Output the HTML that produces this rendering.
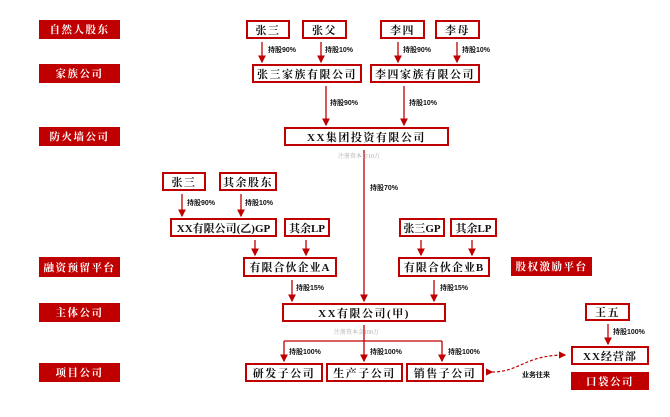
<!DOCTYPE html>
<html><head><meta charset="utf-8"><style>
body{margin:0;width:670px;height:417px;background:#fff;position:relative;overflow:hidden;font-family:"Liberation Serif","Noto Serif CJK SC",serif;}
.b{position:absolute;box-sizing:border-box;border:2px solid #c00000;background:#fff;color:#111;font-weight:bold;font-size:11px;display:flex;align-items:center;justify-content:center;letter-spacing:1.5px;white-space:nowrap}
.r{position:absolute;box-sizing:border-box;background:#c00000;color:#fff;font-weight:bold;font-size:10.5px;display:flex;align-items:center;justify-content:center;letter-spacing:1.5px;white-space:nowrap}
.l{position:absolute;font-size:7px;font-weight:bold;color:#111;font-family:"Liberation Sans","Noto Sans CJK SC",sans-serif;white-space:nowrap}
.g{position:absolute;font-size:6px;color:#aaa;white-space:nowrap}
svg{position:absolute;left:0;top:0}
</style></head><body>
<svg width="670" height="417">
<defs><marker id="a" markerWidth="6" markerHeight="6" refX="5" refY="3" orient="auto"><path d="M0,0L6,3L0,6z" fill="#c00000"/></marker></defs>
<g stroke="#c00000" stroke-width="1.3" fill="none" marker-end="url(#a)">
<line x1="262" y1="42" x2="262" y2="62"/><line x1="321" y1="42" x2="321" y2="62"/>
<line x1="398" y1="42" x2="398" y2="62"/><line x1="457" y1="42" x2="457" y2="62"/>
<line x1="326" y1="86" x2="326" y2="125"/><line x1="404" y1="86" x2="404" y2="125"/>
<line x1="364" y1="150" x2="364" y2="301"/>
<line x1="182" y1="194" x2="182" y2="216"/><line x1="241" y1="194" x2="241" y2="216"/>
<line x1="255" y1="240" x2="255" y2="255"/><line x1="306" y1="240" x2="306" y2="255"/>
<line x1="421" y1="240" x2="421" y2="255"/><line x1="472" y1="240" x2="472" y2="255"/>
<line x1="292" y1="280" x2="292" y2="301"/><line x1="434" y1="280" x2="434" y2="301"/>
<line x1="284" y1="341" x2="284" y2="361"/><line x1="364" y1="325" x2="364" y2="361"/><line x1="442" y1="341" x2="442" y2="361"/>
<line x1="608" y1="324" x2="608" y2="344"/>
</g>
<line x1="284" y1="341" x2="442" y2="341" stroke="#c00000" stroke-width="1.3"/>
<path d="M492,372 C520,372 525,355 565,355" stroke="#c00000" stroke-width="1.2" fill="none" stroke-dasharray="3,2" marker-end="url(#a)" marker-start="url(#a)"/>
</svg>
<div class="r" style="left:39px;top:20px;width:81px;height:19px">自然人股东</div>
<div class="r" style="left:39px;top:64px;width:81px;height:19px">家族公司</div>
<div class="r" style="left:39px;top:127px;width:81px;height:19px">防火墙公司</div>
<div class="r" style="left:39px;top:257px;width:81px;height:20px">融资预留平台</div>
<div class="r" style="left:39px;top:303px;width:81px;height:19px">主体公司</div>
<div class="r" style="left:39px;top:363px;width:81px;height:19px">项目公司</div>
<div class="r" style="left:511px;top:257px;width:81px;height:19px">股权激励平台</div>
<div class="r" style="left:571px;top:372px;width:78px;height:18px">口袋公司</div>

<div class="b" style="left:246px;top:20px;width:44px;height:19px">张三</div>
<div class="b" style="left:302px;top:20px;width:45px;height:19px">张父</div>
<div class="b" style="left:380px;top:20px;width:45px;height:19px">李四</div>
<div class="b" style="left:435px;top:20px;width:45px;height:19px">李母</div>
<div class="b" style="left:252px;top:64px;width:110px;height:19px">张三家族有限公司</div>
<div class="b" style="left:370px;top:64px;width:110px;height:19px">李四家族有限公司</div>
<div class="b" style="left:284px;top:127px;width:165px;height:19px">XX集团投资有限公司</div>
<div class="b" style="left:162px;top:172px;width:44px;height:19px">张三</div>
<div class="b" style="left:219px;top:172px;width:58px;height:19px">其余股东</div>
<div class="b" style="left:170px;top:218px;width:107px;height:19px;letter-spacing:0">XX有限公司(乙)GP</div>
<div class="b" style="left:284px;top:218px;width:46px;height:19px;letter-spacing:0">其余LP</div>
<div class="b" style="left:399px;top:218px;width:46px;height:19px;letter-spacing:0">张三GP</div>
<div class="b" style="left:450px;top:218px;width:47px;height:19px;letter-spacing:0">其余LP</div>
<div class="b" style="left:243px;top:257px;width:94px;height:20px;letter-spacing:1px">有限合伙企业A</div>
<div class="b" style="left:398px;top:257px;width:92px;height:20px;letter-spacing:1px">有限合伙企业B</div>
<div class="b" style="left:282px;top:303px;width:164px;height:19px">XX有限公司(甲)</div>
<div class="b" style="left:245px;top:363px;width:78px;height:19px">研发子公司</div>
<div class="b" style="left:326px;top:363px;width:77px;height:19px">生产子公司</div>
<div class="b" style="left:406px;top:363px;width:78px;height:19px">销售子公司</div>
<div class="b" style="left:585px;top:303px;width:45px;height:18px">王五</div>
<div class="b" style="left:571px;top:346px;width:78px;height:19px;letter-spacing:1px">XX经营部</div>

<div class="l" style="left:268px;top:45px">持股90%</div>
<div class="l" style="left:325px;top:45px">持股10%</div>
<div class="l" style="left:403px;top:45px">持股90%</div>
<div class="l" style="left:462px;top:45px">持股10%</div>
<div class="l" style="left:330px;top:98px">持股90%</div>
<div class="l" style="left:409px;top:98px">持股10%</div>
<div class="g" style="left:338px;top:151px">注册资本金10万</div>
<div class="l" style="left:370px;top:183px">持股70%</div>
<div class="l" style="left:187px;top:198px">持股90%</div>
<div class="l" style="left:245px;top:198px">持股10%</div>
<div class="l" style="left:296px;top:283px">持股15%</div>
<div class="l" style="left:440px;top:283px">持股15%</div>
<div class="g" style="left:334px;top:327px">注册资本金100万</div>
<div class="l" style="left:289px;top:347px">持股100%</div>
<div class="l" style="left:370px;top:347px">持股100%</div>
<div class="l" style="left:448px;top:347px">持股100%</div>
<div class="l" style="left:613px;top:327px">持股100%</div>
<div class="l" style="left:522px;top:370px">业务往来</div>
</body></html>
